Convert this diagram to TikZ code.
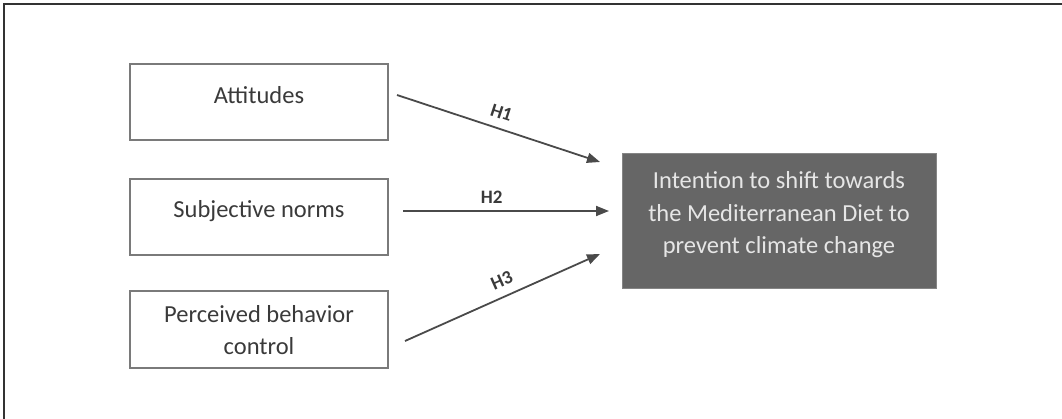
\documentclass[tikz,border=0pt]{standalone}
\usepackage{fontspec}
\setmainfont{Carlito}
\usetikzlibrary{arrows.meta}
\definecolor{boxline}{HTML}{7A7A7A}
\definecolor{arrowc}{HTML}{4A4A4A}
\definecolor{darkfill}{HTML}{666666}
\definecolor{lighttext}{HTML}{E6E6E6}
\definecolor{txtc}{HTML}{3A3A3A}
\tikzset{
  inbox/.style={draw=boxline, line width=2pt, minimum width=258pt, minimum height=76pt, inner sep=0pt},
  intxt/.style={font=\fontsize{24.5}{32}\selectfont, text=txtc, align=center, inner sep=0pt},
  outbox/.style={fill=darkfill, draw=darkfill!80!white, line width=1pt, minimum width=314pt, minimum height=135pt, inner sep=0pt},
  outtxt/.style={font=\fontsize{24.5}{32.5}\selectfont, text=lighttext, align=center, inner sep=0pt},
  hyparrow/.style={draw=arrowc, line width=1.8pt, -{Triangle[length=13pt,width=10pt]}},
  hyplabel/.style={font=\bfseries\fontsize{19}{19}\selectfont, text=txtc, inner sep=1pt}
}
\begin{document}
\begin{tikzpicture}[x=1pt,y=-1pt]
\useasboundingbox (0,0) rectangle (1062,419);
\draw[color=black!80, line width=1.5pt] (4,419) -- (4,4) -- (1062,4);
% input boxes
\node[inbox] (att) at (259,102) {};
\node[intxt] (attT) at (259,95) {Attitudes};
\node[inbox] (sub) at (259,217.5) {};
\node[intxt] (subT) at (259,211) {Subjective norms};
\node[inbox] (pbc) at (259,329.5) {};
\node[intxt] (pbcT) at (259,330.5) {Perceived behavior\\control};
% outcome box
\node[outbox] (int) at (779,221.5) {};
\node[outtxt] (intT) at (779,215) {Intention to shift towards\\the Mediterranean Diet to\\prevent climate change};
% arrow ends
\coordinate (a1s) at (397,95);
\coordinate (a1e) at (600,162);
\coordinate (a2s) at (403,211);
\coordinate (a2e) at (609,211);
\coordinate (a3s) at (405,341);
\coordinate (a3e) at (600,254);
\draw[hyparrow] (a1s) -- node[hyplabel, pos=0.49, sloped, above=8pt] (h1) {H1} (a1e);
\draw[hyparrow] (a2s) -- node[hyplabel, pos=0.43, above=6pt] (h2) {H2} (a2e);
\draw[hyparrow] (a3s) -- node[hyplabel, pos=0.53, sloped, above=8pt] (h3) {H3} (a3e);
\end{tikzpicture}
\end{document}
